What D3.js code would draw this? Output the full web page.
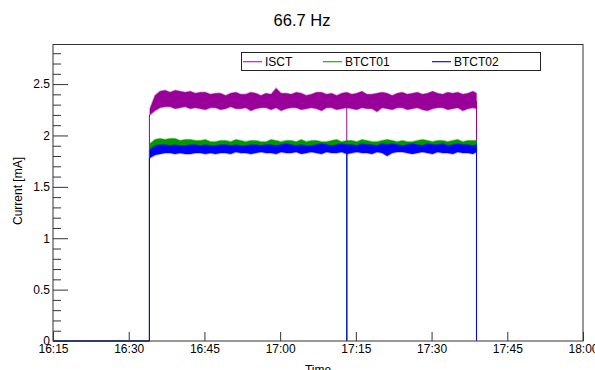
<!DOCTYPE html>
<html>
<head>
<meta charset="utf-8">
<script src="https://cdn.jsdelivr.net/npm/d3@7"></script>
<style>
  html, body { margin: 0; padding: 0; background: #fff; }
  svg { display: block; }
  text { font-family: "Liberation Sans", Arial, Helvetica, sans-serif; fill: #000; }
</style>
</head>
<body>
<svg id="chart" width="595" height="370"></svg>
<script>
// ---------------- data ----------------
const titleText = "66.7 Hz";
const yTitle = "Current [mA]";
const xTitle = "Time";
const seriesNames = ["ISCT", "BTCT01", "BTCT02"];
const seriesColors = ["#990099", "#009900", "#0000ff"];
const legendColors = ["#dd22dd", "#22bb22", "#2222ff"];

const xTickLabels = ["16:15", "16:30", "16:45", "17:00", "17:15", "17:30", "17:45", "18:00"];
const yTickValues = [0, 0.5, 1, 1.5, 2, 2.5];
const yTickLabels = ["0", "0.5", "1", "1.5", "2", "2.5"];
const yMax = 2.89;

const axisStart = "16:15:00";
const axisEnd = "18:00:00";
const beamOn = "16:34:06";    // signal rises from zero
const dropout = "17:13:12";   // single zero reading
const beamOff = "17:38:54";   // signal ends

// sample times of the envelope (one per minute, then the last reading)
const bandTimes = ["16:34:12","16:35:12","16:36:12","16:37:12","16:38:12","16:39:12","16:40:12","16:41:12","16:42:12","16:43:12",
  "16:44:12","16:45:12","16:46:12","16:47:12","16:48:12","16:49:12","16:50:12","16:51:12","16:52:12","16:53:12",
  "16:54:12","16:55:12","16:56:12","16:57:12","16:58:12","16:59:12","17:00:12","17:01:12","17:02:12","17:03:12",
  "17:04:12","17:05:12","17:06:12","17:07:12","17:08:12","17:09:12","17:10:12","17:11:12","17:12:12","17:13:12",
  "17:14:12","17:15:12","17:16:12","17:17:12","17:18:12","17:19:12","17:20:12","17:21:12","17:22:12","17:23:12",
  "17:24:12","17:25:12","17:26:12","17:27:12","17:28:12","17:29:12","17:30:12","17:31:12","17:32:12","17:33:12",
  "17:34:12","17:35:12","17:36:12","17:37:12","17:38:12","17:38:54"];

// upper / lower envelope of each noisy trace (mA)
const isctHi = [2.26,2.39,2.43,2.44,2.42,2.44,2.43,2.42,2.43,2.41,
  2.42,2.42,2.40,2.41,2.41,2.39,2.41,2.42,2.40,2.40,
  2.42,2.41,2.39,2.41,2.40,2.46,2.41,2.41,2.40,2.42,
  2.41,2.39,2.40,2.42,2.42,2.40,2.41,2.39,2.41,2.42,
  2.40,2.41,2.43,2.40,2.40,2.41,2.42,2.41,2.39,2.41,
  2.42,2.40,2.41,2.42,2.40,2.41,2.43,2.41,2.40,2.42,
  2.41,2.42,2.40,2.41,2.43,2.41];
const isctLo = [2.20,2.24,2.27,2.28,2.28,2.26,2.27,2.28,2.26,2.27,
  2.26,2.25,2.27,2.27,2.25,2.26,2.28,2.26,2.26,2.27,
  2.24,2.26,2.27,2.27,2.25,2.27,2.24,2.26,2.27,2.27,
  2.25,2.26,2.27,2.26,2.24,2.27,2.27,2.25,2.26,2.27,
  2.26,2.25,2.27,2.26,2.26,2.23,2.27,2.26,2.25,2.27,
  2.27,2.25,2.26,2.27,2.25,2.24,2.26,2.27,2.27,2.25,
  2.26,2.27,2.24,2.26,2.27,2.26];
const btct01Hi = [1.92,1.96,1.97,1.96,1.97,1.97,1.95,1.96,1.96,1.95,
  1.95,1.96,1.94,1.94,1.95,1.95,1.94,1.96,1.95,1.94,
  1.95,1.95,1.94,1.94,1.96,1.95,1.94,1.95,1.95,1.94,
  1.96,1.94,1.95,1.95,1.94,1.94,1.95,1.96,1.94,1.95,
  1.95,1.94,1.96,1.95,1.94,1.94,1.95,1.96,1.95,1.94,
  1.95,1.94,1.94,1.95,1.96,1.95,1.94,1.95,1.95,1.94,
  1.95,1.96,1.94,1.95,1.95,1.95];
const btct01Lo = [1.86,1.88,1.89,1.88,1.89,1.88,1.89,1.88,1.89,1.88,
  1.89,1.88,1.89,1.88,1.89,1.88,1.89,1.88,1.89,1.88,
  1.89,1.88,1.89,1.88,1.89,1.88,1.89,1.88,1.89,1.88,
  1.89,1.88,1.89,1.88,1.89,1.88,1.89,1.88,1.89,1.88,
  1.89,1.88,1.89,1.88,1.89,1.88,1.89,1.88,1.89,1.88,
  1.89,1.88,1.89,1.88,1.89,1.88,1.89,1.88,1.89,1.88,
  1.89,1.88,1.89,1.88,1.89,1.88];
const btct02Hi = [1.86,1.90,1.91,1.91,1.90,1.91,1.90,1.90,1.91,1.91,
  1.90,1.91,1.90,1.90,1.91,1.91,1.90,1.91,1.90,1.90,
  1.91,1.91,1.90,1.91,1.91,1.90,1.91,1.92,1.91,1.90,
  1.91,1.90,1.90,1.91,1.92,1.91,1.90,1.91,1.92,1.91,
  1.91,1.90,1.92,1.91,1.91,1.90,1.92,1.91,1.92,1.91,
  1.90,1.91,1.92,1.91,1.90,1.92,1.91,1.91,1.92,1.90,
  1.91,1.92,1.91,1.91,1.90,1.91];
const btct02Lo = [1.78,1.81,1.82,1.83,1.83,1.82,1.83,1.82,1.82,1.83,
  1.83,1.82,1.83,1.82,1.83,1.83,1.82,1.84,1.83,1.83,
  1.82,1.83,1.84,1.83,1.83,1.82,1.84,1.83,1.83,1.84,
  1.82,1.83,1.84,1.83,1.82,1.84,1.83,1.83,1.84,1.82,
  1.83,1.84,1.83,1.83,1.82,1.84,1.83,1.80,1.83,1.84,
  1.84,1.83,1.82,1.83,1.84,1.83,1.82,1.84,1.83,1.83,
  1.82,1.84,1.83,1.83,1.82,1.84];

// ---------------- chart ----------------
const toMin = s => { const p = s.split(":").map(Number); return p[0]*60 + p[1] + (p[2]||0)/60; };

const L = 53, R = 583, T = 44, B = 341;
const x = d3.scaleLinear().domain([toMin(axisStart), toMin(axisEnd)]).range([L, R]);
const y = d3.scaleLinear().domain([0, yMax]).range([B, T]);

const svg = d3.select("#chart");

// title
svg.append("text").attr("x", 302).attr("y", 26).attr("text-anchor", "middle")
  .style("font-size", "16.5px").text(titleText);

const series = [
  { name: seriesNames[0], hi: isctHi, lo: isctLo, color: seriesColors[0] },
  { name: seriesNames[1], hi: btct01Hi, lo: btct01Lo, color: seriesColors[1] },
  { name: seriesNames[2], hi: btct02Hi, lo: btct02Lo, color: seriesColors[2] }
];
const tms = bandTimes.map(toMin);

const area = d3.area()
  .x((d, i) => x(tms[i]))
  .y0(d => y(d[0]))
  .y1(d => y(d[1]));

const plot = svg.append("g");

const midAt = (s, t) => {
  let i = d3.bisectLeft(tms, t);
  i = Math.max(0, Math.min(tms.length - 1, i));
  return (s.hi[i] + s.lo[i]) / 2;
};

series.forEach((s, k) => {
  const pts = s.hi.map((h, i) => [s.lo[i], h]);
  // soft fringe like the antialiased noise spikes
  plot.append("path").attr("d", area(pts)).attr("fill", "none").attr("stroke", s.color)
    .attr("stroke-width", 1.6).attr("stroke-opacity", 0.35);
  plot.append("path").attr("d", area(pts)).attr("fill", s.color);
  const line = d3.line().x(d => x(d[0])).y(d => y(d[1]));
  plot.append("path").attr("fill", "none").attr("stroke", s.color).attr("stroke-width", 1)
    .attr("d", line([[toMin(axisStart), 0], [toMin(beamOn), 0], [toMin(beamOn), s.lo[0]], [tms[0], s.lo[0]]]));
  const td = toMin(dropout);
  plot.append("path").attr("fill", "none").attr("stroke", s.color).attr("stroke-width", 1)
    .attr("d", line([[td, midAt(s, td)], [td, 0]]));
  const te = toMin(beamOff);
  plot.append("path").attr("fill", "none").attr("stroke", s.color).attr("stroke-width", 1)
    .attr("d", line([[te, midAt(s, te)], [te, 0]]));
});

// frame
svg.append("rect").attr("x", L).attr("y", T + 0.5).attr("width", R - L).attr("height", B - T - 0.5)
  .attr("fill", "none").attr("stroke", "#333").attr("stroke-width", 1);

// y axis major
const yAxis = d3.axisLeft(y).tickValues(yTickValues)
  .tickFormat((d, i) => yTickLabels[i]).tickSizeInner(-15).tickSizeOuter(0).tickPadding(3);
const gy = svg.append("g").attr("transform", `translate(${L},0)`).call(yAxis);
gy.select(".domain").remove();
gy.selectAll("line").attr("stroke", "#333");
gy.selectAll("text").style("font-size", "12px").style("font-family", "Liberation Sans, Arial, sans-serif");

// y axis minor
const yMinor = d3.range(0, yMax, 0.1).filter(v => !yTickValues.some(m => Math.abs(m - v) < 1e-6));
const gym = svg.append("g").attr("transform", `translate(${L},0)`)
  .call(d3.axisLeft(y).tickValues(yMinor).tickFormat("").tickSizeInner(-8).tickSizeOuter(0));
gym.select(".domain").remove();
gym.selectAll("line").attr("stroke", "#333");

// x axis
const xAxis = d3.axisBottom(x).tickValues(xTickLabels.map(toMin))
  .tickFormat((d, i) => xTickLabels[i]).tickSizeInner(-9).tickSizeOuter(0).tickPadding(3);
const gx = svg.append("g").attr("transform", `translate(0,${B})`).call(xAxis);
gx.select(".domain").remove();
gx.selectAll("line").attr("stroke", "#333");
gx.selectAll("text").style("font-size", "12px").style("font-family", "Liberation Sans, Arial, sans-serif");

// axis titles
svg.append("text").attr("transform", "translate(22,191) rotate(-90)").attr("text-anchor", "middle")
  .style("font-size", "12px").text(yTitle);
svg.append("text").attr("x", 318).attr("y", 374).attr("text-anchor", "middle")
  .style("font-size", "12px").text(xTitle);

// legend
const lg = svg.append("g");
lg.append("rect").attr("x", 241.5).attr("y", 52.5).attr("width", 299).attr("height", 18)
  .attr("fill", "#fff").attr("stroke", "#222").attr("stroke-width", 1);
const legendX = [243, 323, 432];
seriesNames.forEach((n, i) => {
  lg.append("rect").attr("x", legendX[i]).attr("y", 61).attr("width", 19).attr("height", 1.3)
    .attr("fill", legendColors[i]);
  lg.append("text").attr("x", legendX[i] + 22).attr("y", 65.5).style("font-size", "12px").text(n);
});
</script>
</body>
</html>
